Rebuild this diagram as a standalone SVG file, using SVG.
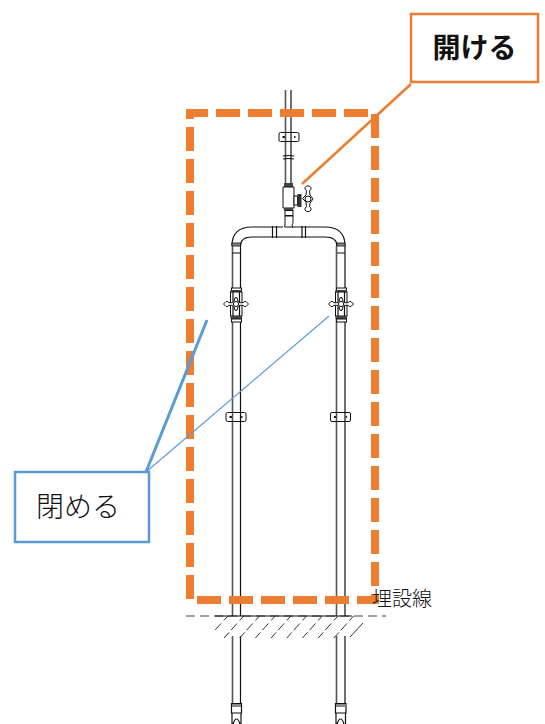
<svg xmlns="http://www.w3.org/2000/svg" width="545" height="724" viewBox="0 0 545 724">
<defs>
<path id="lobe" d="M-12.500 0l2.500-2.500h1.500l1.500 1.200h3.500l1.500-1.500 1-3.500h2l1 3.500 1.500 1.500h3.500l1.500-1.200h1.500l2.500 2.500-2.500 2.500h-1.500l-1.500-1.200h-3.500l-1.500 1.500-1 3.500h-2l-1-3.500-1.500-1.500h-3.500l-1.500 1.200h-1.500Z"/>
<g id="valve">
<rect class="w" x="-4.500" y="-16" width="10" height="4"/>
<rect x="-5.500" y="-14" width="11.500" height="2.500" fill="#444"/>
<rect class="w" x="-5.500" y="-12" width="11.500" height="24"/>
<path class="p" d="M-3-12V12M3.500-12V12"/>
<use href="#lobe" class="w"/>
<circle class="w" cx="0" cy="0" r="2.600"/>
<rect x="-5.500" y="12" width="11.500" height="3" fill="#444"/>
<rect class="w" x="-4.500" y="15" width="10" height="3"/>
</g>
<g id="clip">
<rect class="w" x="-10" y="-4.500" width="20" height="9" rx="1.500"/>
<rect x="-6.500" y="-1" width="2.500" height="2" fill="#111"/>
<rect x="5" y="-0.800" width="1.600" height="1.600" fill="#111"/>
</g>
</defs>
<style>
.p{fill:none;stroke:#111;stroke-width:1.2}
.g{fill:none;stroke:#555;stroke-width:1.6}
.w{fill:#fff;stroke:#111;stroke-width:1}
.d{fill:none;stroke:#ed7d31;stroke-width:8;stroke-dasharray:24 8}
.t{font-family:"Noto Sans CJK JP","Noto Sans CJK SC",sans-serif;fill:#111}
</style>
<rect width="545" height="724" fill="#fff"/>
<g id="piping">
<path class="g" d="M285.500 90V184M232.500 246V616M336.500 246V616M232.500 636V704M336.500 636V704"/>
<path class="p" d="M291 90V184M240.500 246V616M345 246V616M240.500 636V704M345 636V704"/>
<path class="p" d="M232 246Q232 227 252 227H283M292 227H325Q345 227 345 246M240.500 246Q240.500 237 252 237H325Q337 237 337 246"/>
<rect x="232" y="243" width="8.500" height="3" fill="#888" stroke="#111" stroke-width=".8"/>
<rect x="337" y="243" width="8" height="3" fill="#888" stroke="#111" stroke-width=".8"/>
<path class="p" d="M232 253H240.500M337 253H345"/>
<path class="p" d="M272.500 226V238M276.500 226V238M302 226V238M305.500 226V238"/>
<path class="p" d="M283 156Q288 155 294 156M283 159Q288 158 294 159"/>
<use href="#clip" x="289" y="137"/>
<path class="g" d="M285.500 132.500V141.500"/><path class="p" d="M291 132.500V141.500"/>
<rect x="284" y="183" width="9" height="4" fill="#444"/>
<path class="w" d="M283 187H294V208H283Z"/>
<rect x="284" y="208" width="9" height="2.500" fill="#444"/>
<rect class="w" x="285" y="210.500" width="8" height="5"/>
<path class="w" d="M285 216H293V221Q293 224 292 225.500L293 227H284.500L285 225Q285 222 285 216Z"/>
<rect class="w" x="294" y="196" width="3.500" height="9"/>
<rect x="297.500" y="194" width="4" height="13" fill="#333"/>
<path class="w" d="M305 187.500a3.500 3.500 0 0 1 6 0q.5 2-1.500 3.500l.5 4 3 4-3 4-.5 3.500q2 1.500 1.500 3.500a3.500 3.500 0 0 1-6 0q-.5-2 1.500-3.500l-.5-4.500-3.500-3.500 3.500-3.500.5-4.500q-2-1.500-1.500-3Z"/>
<circle class="w" cx="308" cy="199" r="3"/>
<g id="valve-left"><use href="#valve" x="236" y="304"/></g>
<g id="valve-right"><use href="#valve" x="341" y="304"/></g>
<use href="#clip" x="236" y="417"/><path class="g" d="M232.500 412.500V421.500"/><path class="p" d="M240.500 412.500V421.500"/>
<use href="#clip" x="340.500" y="417"/><path class="g" d="M336.500 412.500V421.500"/><path class="p" d="M345 412.500V421.500"/>
<path class="p" d="M231.500 703.500H241.500V713H231.500ZM335.500 703.500H346V713H335.500Z"/>
<rect x="232" y="704" width="9" height="3" fill="#888"/><rect x="336" y="704" width="9.500" height="3" fill="#888"/>
<path class="p" d="M232 713V724M241 713V724M336 713V724M345.500 713V724M233 724Q236.500 714 240 724M337 724Q340.500 714 344 724"/>
</g>
<g id="ground">
<path fill="none" stroke="#444" stroke-width="1" stroke-dasharray="9 5" d="M186 616H386"/>
<path fill="none" stroke="#111" stroke-width="1.200" d="M215 616H352"/>
<path fill="none" stroke="#333" stroke-width="1" stroke-dasharray="6 4 9 3 9" d="M228 616L215 630M243.700 616L224 638M259.400 616L239.700 638M275.100 616L255.400 638M290.800 616L271.100 638M306.500 616L286.800 638M322.200 616L302.500 638M337.900 616L318.200 638M353.600 616L333.900 638"/>
<path fill="none" stroke="#333" stroke-width="1" d="M363 623L350 637"/>
</g>
<g id="region"><path class="d" d="M190 119V113H375V600H197"/><path class="d" d="M190 127V599"/></g>
<g id="connectors" fill="none">
<path stroke="#ed7d31" stroke-width="2.500" d="M411 84L302 184"/>
<path stroke="#5b9bd5" stroke-width="3" d="M207 320L146 472"/>
<path stroke="#5b9bd5" stroke-width="1.200" d="M329 316L146 472"/>
</g>
<g id="label-open"><rect x="411" y="14" width="127" height="68" fill="#fff" stroke="#ed7d31" stroke-width="2.500"/><text class="t" x="474.500" y="58" font-size="28" font-weight="700" text-anchor="middle">開ける</text></g>
<g id="label-close"><rect x="15" y="472" width="134" height="70" fill="#fff" stroke="#5b9bd5" stroke-width="2.500"/><text class="t" x="78" y="517" font-size="28" font-weight="300" text-anchor="middle">閉める</text></g>
<text id="label-line" class="t" x="372" y="606" font-size="20" font-weight="300">埋設線</text>
</svg>
